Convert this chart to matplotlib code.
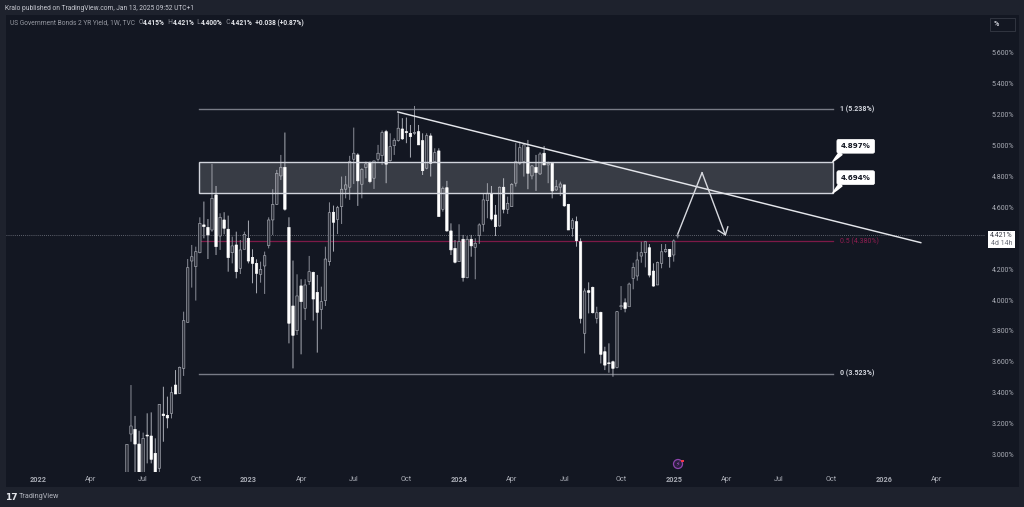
import pandas as pd
import matplotlib
matplotlib.use("Agg")
import matplotlib.pyplot as plt
import matplotlib.dates as mdates
from matplotlib.patches import Rectangle, Circle

plt.rcParams['font.family'] = ['Roboto', 'DejaVu Sans']

# weekly candles, 2 yr yield
opens = [2.80,3.133,3.163,3.068,2.85,3.126,3.120,3.008,2.911,3.262,3.254,3.267,3.450,3.396,3.558,3.856,4.253,4.217,4.307,4.487,4.471,4.454,4.681,4.415,4.519,4.459,4.307,4.357,4.206,4.329,
         4.400,4.277,4.238,4.167,4.221,4.353,4.519,4.620,4.804,4.860,4.471,3.962,3.802,4.092,3.947,4.120,4.180,4.050,3.940,3.997,4.249,4.569,4.523,4.605,4.718,4.731,4.912,4.940,4.750,4.858,
         4.890,4.789,4.912,4.936,5.091,4.903,5.000,5.033,5.108,5.091,5.080,5.080,5.091,5.033,4.854,5.063,4.897,4.966,4.588,4.728,4.448,4.335,4.249,4.394,4.145,4.394,4.342,4.418,4.491,4.644,
         4.687,4.551,4.480,4.731,4.588,4.605,4.757,4.886,4.897,4.990,4.804,4.860,4.817,4.951,4.875,4.886,4.713,4.731,4.746,4.620,4.465,4.508,4.378,3.785,4.061,4.083,3.882,3.921,3.666,3.594,
         3.601,3.564,3.957,3.983,3.957,4.141,4.156,4.285,4.307,4.339,4.188,4.098,4.238,4.313,4.329,4.292,4.415]
highs = [3.066,3.450,3.250,3.154,3.142,3.267,3.273,3.105,3.327,3.439,3.375,3.439,3.547,3.569,3.925,4.266,4.357,4.346,4.536,4.638,4.525,4.882,4.739,4.562,4.569,4.547,4.411,4.443,4.389,4.443,
         4.515,4.329,4.264,4.249,4.314,4.536,4.718,4.843,4.940,5.085,4.536,4.256,4.167,4.135,4.135,4.286,4.184,4.163,4.087,4.346,4.633,4.612,4.610,4.800,4.804,4.934,5.117,4.951,4.854,4.897,
         4.897,4.903,5.005,5.098,5.102,5.080,5.048,5.210,5.178,5.182,5.134,5.257,5.134,5.080,5.080,5.080,4.983,4.983,4.735,4.772,4.497,4.389,4.491,4.422,4.415,4.422,4.400,4.497,4.692,4.757,
         4.739,4.616,4.735,4.789,4.670,4.757,5.016,5.026,5.016,5.037,4.875,4.940,4.957,4.998,4.897,4.890,4.778,4.767,4.746,4.623,4.530,4.541,4.400,4.076,4.115,4.087,3.957,3.925,3.698,3.720,
         3.608,3.929,4.091,4.011,4.113,4.242,4.313,4.378,4.378,4.363,4.238,4.249,4.363,4.363,4.329,4.393,4.421]
lows = [2.80,3.083,2.85,2.80,2.80,2.943,2.943,2.80,2.85,3.083,3.170,3.234,3.392,3.396,3.509,3.856,4.081,3.997,4.303,4.400,4.266,4.443,4.292,4.325,4.426,4.184,4.238,4.141,4.169,4.329,
        4.238,4.109,4.044,4.113,4.040,4.335,4.422,4.616,4.778,4.579,3.720,3.558,3.774,3.649,3.871,4.098,3.867,3.660,3.811,3.962,4.223,4.314,4.428,4.493,4.659,4.649,4.752,4.610,4.659,4.789,
        4.757,4.720,4.897,4.875,4.757,4.897,4.940,5.026,5.037,5.016,4.923,5.070,5.005,4.810,4.847,4.800,4.890,4.541,4.573,4.443,4.292,4.238,4.249,4.120,4.141,4.281,4.135,4.364,4.443,4.530,
        4.515,4.415,4.476,4.562,4.558,4.605,4.735,4.875,4.800,4.718,4.782,4.707,4.810,4.875,4.757,4.659,4.707,4.674,4.605,4.454,4.411,4.346,3.849,3.655,3.914,3.914,3.849,3.590,3.547,3.530,
        3.504,3.558,3.936,3.921,3.957,4.070,4.126,4.242,4.212,4.147,4.087,4.098,4.206,4.307,4.210,4.249,4.400]
closes = [3.066,3.185,3.068,2.85,3.105,3.120,2.969,2.85,3.325,3.252,3.237,3.401,3.392,3.565,3.867,4.210,4.281,4.314,4.497,4.476,4.422,4.659,4.346,4.536,4.465,4.275,4.351,4.184,4.325,4.426,
          4.253,4.238,4.173,4.199,4.288,4.519,4.620,4.821,4.860,4.588,3.850,3.772,4.027,3.990,4.098,4.184,4.007,3.921,3.990,4.266,4.566,4.504,4.599,4.718,4.746,4.897,4.951,4.772,4.847,4.882,
          4.767,4.901,4.951,5.085,4.880,4.994,5.035,5.113,5.044,5.085,5.059,5.085,5.005,4.838,5.065,4.886,4.955,4.541,4.724,4.448,4.325,4.245,4.379,4.145,4.394,4.351,4.368,4.487,4.649,4.692,
          4.525,4.476,4.731,4.588,4.627,4.750,4.897,4.987,5.005,4.821,4.869,4.826,4.946,4.875,4.886,4.707,4.735,4.752,4.610,4.454,4.515,4.385,3.882,4.059,4.050,3.918,3.918,3.649,3.579,3.588,
          3.558,3.925,3.964,3.946,4.104,4.212,4.260,4.307,4.378,4.162,4.091,4.244,4.313,4.329,4.281,4.383,4.421]

last_week = "2025-01-13"
tick_dates = ["2022-01-03","2022-04-04","2022-07-04","2022-10-03","2023-01-02","2023-04-03","2023-07-03","2023-10-02",
              "2024-01-01","2024-04-01","2024-07-01","2024-10-07","2025-01-06","2025-04-07","2025-07-07","2025-10-06",
              "2026-01-05","2026-04-06"]
tick_names = ["2022","Apr","Jul","Oct","2023","Apr","Jul","Oct","2024","Apr","Jul","Oct","2025","Apr","Jul","Oct","2026","Apr"]
price_ticks = [3.0,3.2,3.4,3.6,3.8,4.0,4.2,4.6,4.8,5.0,5.2,5.4,5.6]

fib_start, fib_end = "2022-10-08", "2025-10-08"
fib_one, fib_half, fib_zero = 5.238, 4.380, 3.523
zone_low, zone_high = 4.694, 4.897
trend_dates = ["2023-09-17", "2026-03-09"]
trend_prices = [5.218, 4.372]
path_dates = ["2025-01-13", "2025-02-24", "2025-04-06"]
path_prices = [4.428, 4.825, 4.415]

BG = "#131722"
OUTER = "#1e222d"
W, H = 1024, 507

dates = pd.date_range(end=last_week, periods=len(opens), freq="7D")
xs = mdates.date2num(dates)

def num(d):
    return mdates.date2num(pd.Timestamp(d))

fig = plt.figure(figsize=(W / 100, H / 100), dpi=100, facecolor=OUTER)
fig.patches.append(Rectangle((6 / W, 1 - 487 / H), 1013 / W, 472 / H, transform=fig.transFigure, fc=BG, ec="none", zorder=-1))

ax = fig.add_axes([6 / W, 1 - 472 / H, 979 / W, 457 / H])
ax.patch.set_visible(False)
for s in ax.spines.values():
    s.set_visible(False)
ax.set_xlim(num("2021-11-09"), num("2026-06-28"))
ax.set_ylim(2.887, 5.846)

for x, o, h, l, c in zip(xs, opens, highs, lows, closes):
    up = c >= o
    ax.plot([x, x], [l, h], color="#8b8e98" if up else "#a9acb5", lw=0.7, zorder=2, solid_capstyle="butt", snap=False)
    ax.bar(x, max(abs(c - o), 0.006), bottom=min(o, c), width=4.2, snap=False,
           facecolor="#2f323c" if up else "#ffffff", edgecolor="#a9acb5" if up else "#ffffff", lw=0.45, zorder=3)

# zone
ax.add_patch(Rectangle((num(fib_start), zone_low), num(fib_end) - num(fib_start), zone_high - zone_low,
                       fc=(1, 1, 1, 0.16), ec="#d1d4dc", lw=1.0, zorder=4))

# fib levels
ax.plot([num(fib_start), num(fib_end)], [fib_one, fib_one], color="#787b86", lw=1.0, zorder=1)
ax.plot([num(fib_start), num(fib_end)], [fib_zero, fib_zero], color="#787b86", lw=1.0, zorder=1)
ax.plot([num(fib_start), num(fib_end)], [fib_half, fib_half], color="#7d1a48", lw=0.9, zorder=1)
ax.annotate("1 (5.238%)", (num(fib_end), fib_one), xytext=(5.5, 0), textcoords="offset points",
            color="#d1d4dc", fontsize=5, fontweight="bold", va="center")
ax.annotate("0 (3.523%)", (num(fib_end), fib_zero), xytext=(5.5, 0), textcoords="offset points",
            color="#d1d4dc", fontsize=5, fontweight="bold", va="center")
ax.annotate("0.5 (4.380%)", (num(fib_end), fib_half), xytext=(5.5, 0), textcoords="offset points",
            color="#8f1d50", fontsize=5, va="center")

# last price line
ax.axhline(closes[-1], color="#787b86", lw=0.6, ls=(0, (1, 1.5)), zorder=1)

# trend line and drawn path
ax.plot([num(d) for d in trend_dates], trend_prices, color="#e4e6eb", lw=1.05, zorder=5)
ax.plot([num(d) for d in path_dates[:2]], path_prices[:2], color="#d8dae0", lw=1.0, zorder=5)
ax.annotate("", xy=(num(path_dates[2]), path_prices[2]), xytext=(num(path_dates[1]), path_prices[1]),
            arrowprops=dict(arrowstyle="->,head_length=0.5,head_width=0.38", color="#d8dae0", lw=1.0, shrinkA=0, shrinkB=0), zorder=5)

# zone callouts
for val in [zone_high, zone_low]:
    ax.annotate(f"{val:.3f}%", (num(fib_end), val), xytext=(16.5, 11), textcoords="offset points",
                color="#131722", fontsize=5.1, fontweight="bold", family="DejaVu Sans", ha="center", va="center",
                bbox=dict(boxstyle="round,pad=0.55,rounding_size=0.25", fc="white", ec="white", lw=0.5),
                arrowprops=dict(arrowstyle="wedge,tail_width=0.5,shrink_factor=0.6", fc="white", ec="white", shrinkA=0, shrinkB=0, relpos=(0.15, 0.1)),
                zorder=6)

ax.yaxis.tick_right()
ax.set_yticks(price_ticks)
ax.set_yticklabels([f"{p:.3f}%" for p in price_ticks])
ax.set_xticks([num(d) for d in tick_dates])
ax.set_xticklabels(tick_names)
ax.tick_params(axis="y", length=0, pad=5, labelsize=5.0, labelcolor="#a9acb5")
ax.tick_params(axis="x", length=0, pad=3, labelsize=5.2, labelcolor="#a9acb5")
for lab, name in zip(ax.get_xticklabels(), tick_names):
    if name.isdigit():
        lab.set_fontweight("bold")

# price tag on the scale
fig.patches.append(Rectangle((988 / W, 1 - 248 / H), 27 / W, 17 / H, transform=fig.transFigure, fc="white", ec="none"))
fig.text(1001.5 / W, 1 - 235.5 / H, "4.421%", color="#3a3d47", fontsize=5.0, ha="center", va="center")
fig.text(1001.5 / W, 1 - 243.5 / H, "4d 14h", color="#6a6d78", fontsize=5.0, ha="center", va="center")

# % button
fig.patches.append(Rectangle((990 / W, 1 - 31 / H), 25 / W, 13 / H, transform=fig.transFigure, fc=BG, ec="#363a45", lw=0.6))
fig.text(994 / W, 1 - 24.5 / H, "%", color="#c8cad2", fontsize=5.2, fontweight="bold", ha="left", va="center")

# header
fig.text(5 / W, 1 - 8 / H, "Kralo published on TradingView.com, Jan 13, 2025 09:52 UTC+1", color="#c8cad2", fontsize=4.8, va="center")
header = [("US Government Bonds 2 YR Yield, 1W, TVC  ", "#9598a1", "normal"), ("O", "#9598a1", "normal"), ("4.415%", "#e4e6eb", "bold"),
          ("  H", "#9598a1", "normal"), ("4.421%", "#e4e6eb", "bold"), ("  L", "#9598a1", "normal"), ("4.400%", "#e4e6eb", "bold"),
          ("  C", "#9598a1", "normal"), ("4.421%", "#e4e6eb", "bold"), ("  +0.038 (+0.87%)", "#e4e6eb", "bold")]
px = 10
fig.canvas.draw()
rend = fig.canvas.get_renderer()
for txt, col, wt in header:
    t = fig.text(px / W, 1 - 23 / H, txt.replace(" ", "\u00a0"), color=col, fontsize=4.8, fontweight=wt, va="center")
    px = t.get_window_extent(rend).x1

# footer
fig.text(5 / W, 1 - 497 / H, "17", color="#e4e6eb", fontsize=6.5, fontweight="bold", va="center", family="DejaVu Sans")
fig.text(19 / W, 1 - 497 / H, "TradingView", color="#b2b5be", fontsize=5.2, va="center")

# lightning marker
fig.patches.append(Circle((678, H - 464), 4.5, transform=None, fc="#2a1f3d", ec="#8e44ad", lw=0.9))
fig.text(678 / W, 1 - 464 / H, "\u26a1", color="#a855c8", fontsize=4.5, ha="center", va="center", family="DejaVu Sans")
fig.patches.append(Rectangle((681, H - 462), 2.5, 2.5, transform=None, fc="#f23645", ec="none"))

fig.savefig("out.png", dpi=100, facecolor=OUTER)
